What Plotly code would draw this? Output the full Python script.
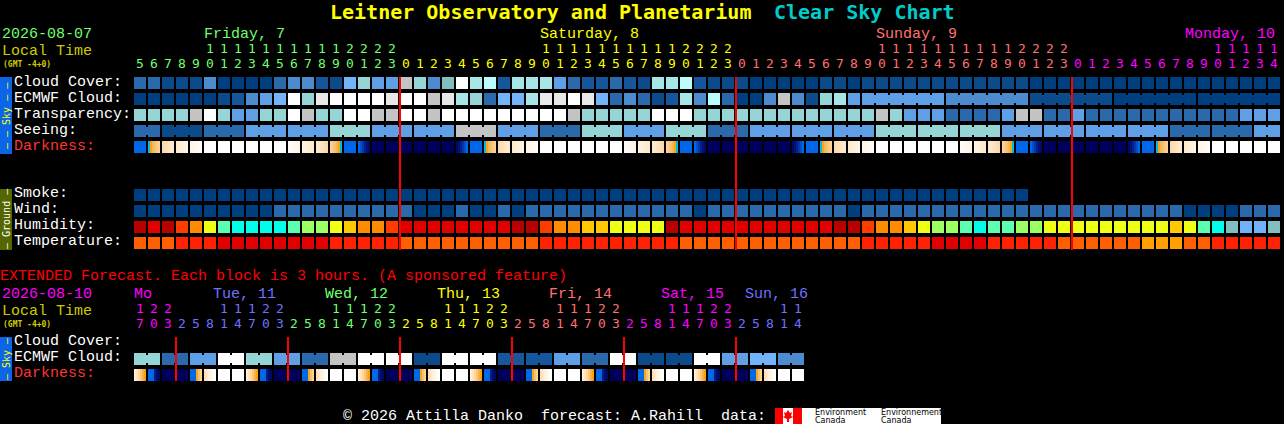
import plotly.graph_objects as go

# ---------- data ----------
HOURS_TOP = [5,6,7,8,9,10,11,12,13,14,15,16,17,18,19,20,21,22,23,
             0,1,2,3,4,5,6,7,8,9,10,11,12,13,14,15,16,17,18,19,20,21,22,23,
             0,1,2,3,4,5,6,7,8,9,10,11,12,13,14,15,16,17,18,19,20,21,22,23,
             0,1,2,3,4,5,6,7,8,9,10,11,12,13,14]
DAY_STARTS_TOP = [0,19,43,67]
DAY_COLORS_TOP = ["#70ff70","#ffff00","#ff7070","#ff00ff"]
DAY_LABELS_TOP = [("Friday, 7",204),("Saturday, 8",540),("Sunday, 9",876),("Monday, 10",1185)]

CLOUD = [3,3,1,1,1,4,0,0,0,0,3,4,4,2,1,6,7,5,5,10,7,
         4,13,12,8,9,2,8,8,8,5,3,2,2,3,2,1,8,8,9,2,1,1,1,0,0,0,0,0,1,1,0,
         1,1,1,1,1,1,1,1,1,1,1,1,0,0,0,0,0,0,0,0,0,0,0,0,0,0,0,0,0,0]
ECMWF = [0,0,0,0,0,0,1,2,4,5,6,12,7,11,12,12,12,12,11,12,12,10,11,8,7,3,6,6,8,11,11,12,11,6,3,4,3,1,2,8,4,9,3,0,0,4,10,4,1,7,8,5,
         5,5,5,5,5,5,4,4,4,4,4,4,1,1,1,1,1,1,0,0,0,0,0,0,0,0,0,0,0,0]
ECMWF_BLOCKS = [1]*52 + [6,6,6,6,6]
TRANSPARENCY = [7,7,7,7,10,12,7,5,5,7,7,12,10,7,7,12,12,10,10,12,12,10,
                12,12,12,12,12,12,12,12,12,10,7,7,7,7,7,12,12,12,
                7,7,7,7,7,7,7,7,7,7,7,7,7,10,7,5,5,5,3,3,3,3,5,10,10,3,3,5,
                3,3,3,3,3,3,3,3,3,3,3,5,5,5]
SEEING_BLOCKS = [2]+[3]*26+[2]
SEEING_LEVELS = [3,1,3,5,5,7,5,5,10,5,3,7,5,7,3,5,5,5,7,7,7,5,5,5,5,3,3,5]
DARKNESS = ["B","M","P3","P2","P1","W","W","W","W","W","W","p1","p2","p3","m","B","G",
            "N","N","N","N","N","N","g","B","M","P3","P2","P1","W","W","W","W","W","W","p1","p2","p3","m","B","G",
            "N","N","N","N","N","N","g","B","M","P3","P2","P1","W","W","W","W","W","W","p1","p2","p3","m","B","G",
            "N","N","N","N","N","N","g","B","M","P3","P2","P1","W","W","W","W","W"]
SMOKE = [0]*64
WIND = [0,0,0,0,0,0,0,0,0,0,3,3,3,3,3,3,3,3,3,3,0,0,0,3,0,0,3,0,
        3,3,3,3,3,3,3,3,3,3,3,3,0,3,3,3,3,3,3,3,3,3,3,0,
        3,3,3,3,3,3,3,3,3,3,3,3,3,3,3,3,3,3,3,3,3,3,3,0,0,0,0,3,3,3]
HUMIDITY = list("abacdfhiiiihggfeddcbb") + list("bbbbbbaacddeeffffabbbbbbbbbbbaa") + \
           list("cddefgghihhggfffffffffefhijkkj")
TEMPERATURE = list("cccbbbaaaaaaaabbbbbcc") + list("ccccccccbbbbbbbbbbccccccccccccc") + \
              list("bbbbbaaaabbbbbccccccdddccbbbbb")

HOURS_EXT = [17,20,23] + [2,5,8,11,14,17,20,23]*5 + [2,5,8,11,14]
DAY_STARTS_EXT = [0,3,11,19,27,35,43]
DAY_COLORS_EXT = ["#ff00ff","#7070ff","#70ff70","#ffff00","#ff7070","#ff00ff","#7070ff"]
DAY_LABELS_EXT = [("Mo",134),("Tue, 11",213),("Wed, 12",325),("Thu, 13",437),("Fri, 14",549),("Sat, 15",661),("Sun, 16",745)]
EXT_ECMWF = [7,3,5,12,7,5,3,10,12,12,1,12,12,2,2,5,3,12,1,1,12,5,6,4]
EXT_DARKNESS = ["E","X","N","N","Y","Z","W","W"]*6

# ---------- styles ----------
CLOUD_PALETTE = ["#003f7f","#0b4a8b","#16569c","#2a6aac","#4b8bce","#5f9fe5","#72b3fa",
                 "#95d5d5","#a6e6e6","#bbfbfb","#c4c4c4","#e8e8e8","#ffffff","#7fbfbf"]
HUM_PALETTE = {"a":"#b80000","b":"#e00000","c":"#ff3c00","d":"#ff8c00","e":"#ffc800","f":"#eeff14",
               "g":"#9cff64","h":"#5cffb0","i":"#00ffe8","j":"#82bebe","k":"#72b0f8"}
TEMP_PALETTE = {"a":"#e00000","b":"#ff2200","c":"#ff5f00","d":"#ffa000"}
NAVY = "#00005c"; BLUE = "#0068e8"
M = ["#00b8f0","#f4a818","#f8b848","#fac070","#fbc888","#fcd098"]
P3 = ["#fdd8a8","#fddcb0","#fee0b8","#fee4c0","#fee8c8","#fee8cc"]
P2 = ["#feeacc","#feecd2","#feeed6","#fef0dc","#fff2e0","#fff4e4"]
P1 = ["#fff4e6","#fff6ea","#fff8ee","#fff9f2","#fffbf6","#fffdfa"]
G = [BLUE,"#0050c8","#0038a8","#002090","#001078","#000868"]
DARK_TYPES = {"W":["#ffffff"]*6,"N":[NAVY]*6,"B":[BLUE]*6,"M":M,"m":M[::-1],"P3":P3,"p3":P3[::-1],
              "P2":P2,"p2":P2[::-1],"P1":P1,"p1":P1[::-1],"G":G,"g":G[::-1],
              "E":["#fff0dc","#fde4bc","#fcd8a0","#fac878","#f8b040","#f4a010"],
              "X":[BLUE,BLUE,BLUE,"#002088","#000c70","#000860"],
              "Y":[BLUE,BLUE,BLUE,"#f4a818","#fac070","#fcd098"],
              "Z":["#fde0b8","#fee8cc","#fff0dc","#fff6ea","#fffaf2","#ffffff"]}

# ---------- pixel scale of the axes: one cell = 14px across, one row = 16px down ----------
def ax(px): return (px-140)/14
def ay(py): return (py-83)/16
CELL_W = 12/14; CELL_H = 12/16

fig = go.Figure()

def add_cells(row_py, colors):
    r = ay(row_py)
    fig.add_trace(go.Bar(x=list(range(len(colors))), y=[CELL_H]*len(colors), base=[r-CELL_H/2]*len(colors),
                         width=CELL_W, marker=dict(color=colors, line=dict(width=0)), hoverinfo="skip", showlegend=False))

def add_links(row_py, colors, blocks):
    xs, cs = [], []
    i = 0
    for n in blocks:
        for k in range(n-1):
            xs.append(i+k+0.5); cs.append(colors[i+k])
        i += n
    h = 8/16
    fig.add_trace(go.Bar(x=xs, y=[h]*len(xs), base=[ay(row_py)-h/2]*len(xs), width=4/14,
                         marker=dict(color=cs, line=dict(width=0)), hoverinfo="skip", showlegend=False))

def add_dark(row_py, types):
    xs, cs = [], []
    for i, t in enumerate(types):
        for k, c in enumerate(DARK_TYPES[t]):
            xs.append(i+(k-2.5)*2/14); cs.append(c)
    fig.add_trace(go.Bar(x=xs, y=[CELL_H]*len(xs), base=[ay(row_py)-CELL_H/2]*len(xs), width=2/14,
                         marker=dict(color=cs, line=dict(width=0)), hoverinfo="skip", showlegend=False))

cloud_colors = [CLOUD_PALETTE[v] for v in CLOUD]
ecmwf_colors = [CLOUD_PALETTE[v] for v in ECMWF]
seeing_colors = []
for n, v in zip(SEEING_BLOCKS, SEEING_LEVELS):
    seeing_colors += [CLOUD_PALETTE[v]]*n
ext_colors = []
for v in EXT_ECMWF:
    ext_colors += [CLOUD_PALETTE[v]]*2

add_cells(83, cloud_colors)
add_cells(99, ecmwf_colors)
add_links(99, ecmwf_colors, ECMWF_BLOCKS)
add_cells(115, [CLOUD_PALETTE[v] for v in TRANSPARENCY])
add_cells(131, seeing_colors)
add_links(131, seeing_colors, SEEING_BLOCKS)
add_dark(147, DARKNESS)
add_cells(195, [CLOUD_PALETTE[v] for v in SMOKE])
add_cells(211, [CLOUD_PALETTE[v] for v in WIND])
add_cells(227, [HUM_PALETTE[v] for v in HUMIDITY])
add_cells(243, [TEMP_PALETTE[v] for v in TEMPERATURE])
add_cells(359, ext_colors)
add_links(359, ext_colors, [2]*len(EXT_ECMWF))
add_dark(375, EXT_DARKNESS)

# midnight lines
def add_midnights(cells, top, bottom):
    xs, ys = [], []
    for c in cells:
        xs += [c-3/7, c-3/7, None]; ys += [ay(top), ay(bottom), None]
    fig.add_trace(go.Scatter(x=xs, y=ys, mode="lines", line=dict(color="#ff0000", width=2),
                             hoverinfo="skip", showlegend=False))
add_midnights(DAY_STARTS_TOP[1:], 77, 250)
add_midnights(DAY_STARTS_EXT[1:], 337, 381)

MONO = "Liberation Mono"
DIGIT = "DejaVu Sans Mono"
def day_colors(starts, cols, n):
    out = []
    for i in range(n):
        k = sum(1 for s in starts if s <= i)-1
        out.append(cols[k])
    return out

def add_digits(hours, starts, cols, tens_py, ones_py):
    c = day_colors(starts, cols, len(hours))
    ones = [str(h % 10) for h in hours]
    tx = [i for i, h in enumerate(hours) if h >= 10]
    fig.add_trace(go.Scatter(x=list(range(len(hours))), y=[ay(ones_py)]*len(hours), text=ones, mode="text",
                             textposition="middle center", textfont=dict(family=DIGIT, size=13, color=c),
                             hoverinfo="skip", showlegend=False))
    fig.add_trace(go.Scatter(x=tx, y=[ay(tens_py)]*len(tx), text=[str(hours[i]//10) for i in tx], mode="text",
                             textposition="middle center", textfont=dict(family=DIGIT, size=13, color=[c[i] for i in tx]),
                             hoverinfo="skip", showlegend=False))
add_digits(HOURS_TOP, DAY_STARTS_TOP, DAY_COLORS_TOP, 50, 65)
add_digits(HOURS_EXT, DAY_STARTS_EXT, DAY_COLORS_EXT, 310, 325)

ann = []
def label(txt, px, py, color="#ffffff", size=15, bold=False, family=MONO):
    t = f"<b>{txt}</b>" if bold else txt
    ann.append(dict(x=ax(px), y=ay(py), xref="x", yref="y", text=t, showarrow=False, xanchor="left", yanchor="middle",
                    borderpad=0, borderwidth=0, font=dict(family=family, size=size, color=color)))
def vlabel(txt, px, py, color, size=10):
    ann.append(dict(x=ax(px), y=ay(py), xref="x", yref="y", text=txt, showarrow=False, textangle=-90,
                    xanchor="center", yanchor="middle", borderpad=0, font=dict(family="DejaVu Sans Mono", size=size, color=color)))

label("Leitner Observatory and Planetarium", 330, 12, "#ffff00", 20, True, "DejaVu Sans Mono")
label("Clear Sky Chart", 774, 12, "#00cccc", 20, True, "DejaVu Sans Mono")
label("2026-08-07", 2, 34, "#70ff70")
label("Local Time", 2, 51, "#cccc00")
label("(GMT -4+0)", 3, 64, "#cccc00", 8, True, "DejaVu Sans Mono")
for (t, x), c in zip(DAY_LABELS_TOP, DAY_COLORS_TOP):
    label(t, x, 34, c)
for t, y, c in [("Cloud Cover:",82,"#ffffff"),("ECMWF Cloud:",98,"#ffffff"),("Transparency:",114,"#ffffff"),
                ("Seeing:",130,"#ffffff"),("Darkness:",146,"#ff3333"),("Smoke:",193,"#ffffff"),("Wind:",209,"#ffffff"),
                ("Humidity:",225,"#ffffff"),("Temperature:",241,"#ffffff"),("Cloud Cover:",341,"#ffffff"),
                ("ECMWF Cloud:",357,"#ffffff"),("Darkness:",373,"#ff3333")]:
    label(t, 14, y, c)
label("EXTENDED Forecast. Each block is 3 hours. (A sponsored feature)", 0, 276, "#ff0000")
label("2026-08-10", 2, 294, "#ff00ff")
label("Local Time", 2, 311, "#cccc00")
label("(GMT -4+0)", 3, 324, "#cccc00", 8, True, "DejaVu Sans Mono")
for (t, x), c in zip(DAY_LABELS_EXT, DAY_COLORS_EXT):
    label(t, x, 294, c)
label("\u00a9 2026 Attilla Danko  forecast: A.Rahill  data:", 343, 416)
vlabel("\u2014 \u2014 Sky \u2014 \u2014", 6, 116, "#ffff00")
vlabel("\u2014 Ground \u2014", 6, 219, "#ffffff")
vlabel("\u2014 Sky \u2014", 6, 359, "#ffff00")
label("Environment", 815, 412, "#000000", 8, False, "DejaVu Sans")
label("Canada", 815, 420, "#000000", 8, False, "DejaVu Sans")
label("Environnement", 881, 412, "#000000", 8, False, "DejaVu Sans")
label("Canada", 881, 420, "#000000", 8, False, "DejaVu Sans")

def rect(x0, y0, x1, y1, color):
    return dict(type="rect", xref="x", yref="y", x0=ax(x0), x1=ax(x1), y0=ay(y0), y1=ay(y1),
                fillcolor=color, line=dict(width=0), layer="below")
shapes = [rect(0,77,12,154,"#0a66e6"), rect(0,189,12,250,"#556600"), rect(0,337,12,381,"#0a66e6"),
          rect(775,408,941,424,"#ffffff"), rect(775,408,783,424,"#ff0000"), rect(793,408,802,424,"#ff0000")]
leaf = [(788,410),(790,413),(792,412),(791,416),(793,417),(789,419),(789,422),(787,422),(787,419),(783,417),(785,416),(784,412),(786,413)]
path = "M " + " L ".join(f"{ax(x)} {ay(y)}" for x, y in leaf) + " Z"
shapes.append(dict(type="path", xref="x", yref="y", path=path, fillcolor="#ff0000", line=dict(width=0), layer="below"))

fig.update_layout(width=1284, height=424, margin=dict(l=0,r=0,t=0,b=0), paper_bgcolor="#000000", plot_bgcolor="#000000",
                  barmode="overlay", bargap=0, showlegend=False, annotations=ann, shapes=shapes,
                  xaxis=dict(range=[ax(0),ax(1284)], visible=False, fixedrange=True),
                  yaxis=dict(range=[ay(424),ay(0)], visible=False, fixedrange=True))

fig.write_html("out.html", config={"displayModeBar":False},
               post_script="document.body.style.margin='0';document.body.style.background='#000';document.body.style.overflow='hidden';")
